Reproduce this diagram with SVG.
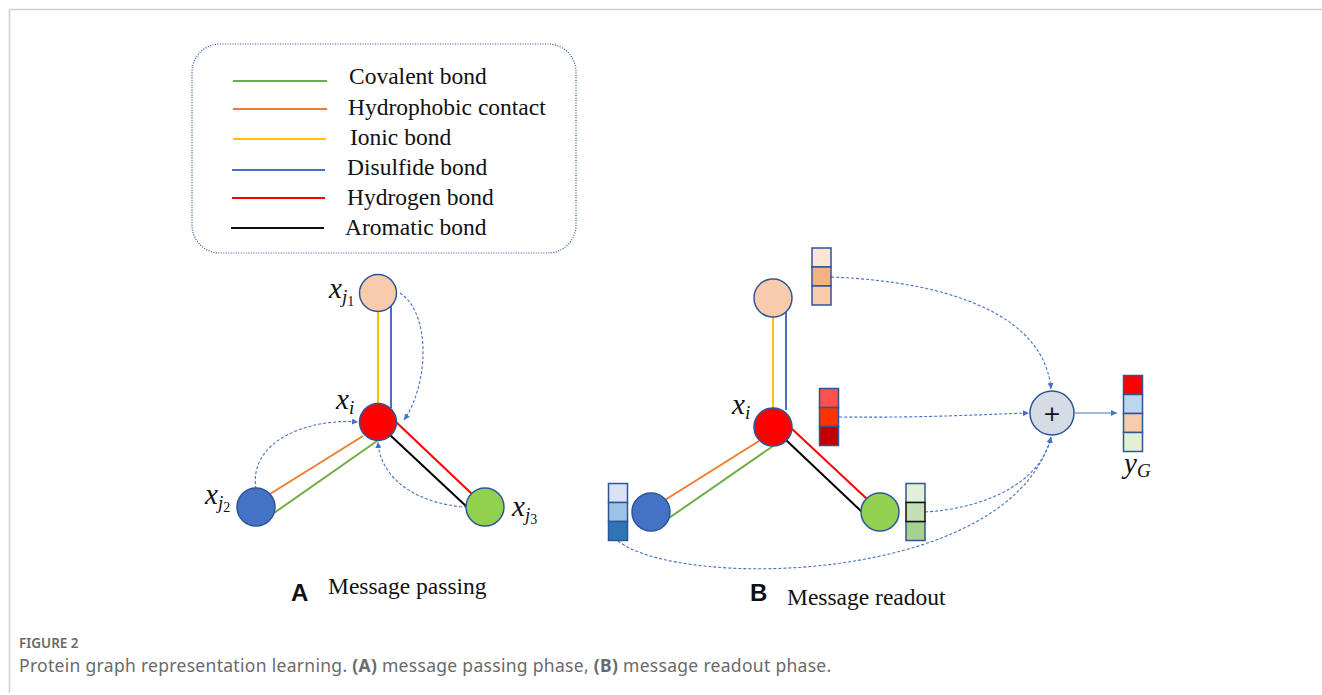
<svg xmlns="http://www.w3.org/2000/svg" width="1322" height="695" viewBox="0 0 1322 695">
<defs>
<marker id="ah" viewBox="0 0 6 6" refX="6" refY="3" markerWidth="6" markerHeight="6" markerUnits="userSpaceOnUse" orient="auto"><path d="M0,0 L6,3 L0,6 z" fill="#4472C4"/></marker>
<style>
.leg{font-family:"Liberation Serif",serif;font-size:23.5px;fill:#111}
.math{font-family:"Liberation Serif",serif;font-style:italic;font-size:29px;fill:#111}
.sb{font-size:19px}
.sn{font-size:14px;font-style:normal}
.node{stroke:#2F5597;stroke-width:1.5}
.cell{stroke:#2F5597;stroke-width:1.5}
.e{stroke-width:2;fill:none}
.msg{stroke:#4472C4;stroke-width:1.1;stroke-dasharray:3 2;fill:none}
.pl{font-family:"Liberation Sans",Arial,sans-serif;font-weight:bold;font-size:24px;fill:#111}
.cap{font-family:"Noto Sans",sans-serif;fill:#6a6a6a}
</style>
</defs>
<rect width="1322" height="695" fill="#fff"/>
<g id="frame" stroke="#cfcfcf" stroke-width="1.5"><line x1="9.5" y1="9.5" x2="1322" y2="9.5"/><line x1="9.5" y1="9.5" x2="9.5" y2="693"/></g>

<g id="legend">
<rect x="192" y="44" width="384" height="209" rx="28" fill="none" stroke="#2F5597" stroke-width="1.2" stroke-dasharray="1 1.5"/>
<line x1="233" y1="81" x2="327" y2="81" stroke="#70AD47" stroke-width="2"/>
<line x1="233" y1="109" x2="327" y2="109" stroke="#ED7D31" stroke-width="2"/>
<line x1="233" y1="139" x2="326" y2="139" stroke="#FFC000" stroke-width="2"/>
<line x1="232" y1="170" x2="325" y2="170" stroke="#4472C4" stroke-width="2"/>
<line x1="232" y1="198" x2="325" y2="198" stroke="#FF0000" stroke-width="2"/>
<line x1="231" y1="228" x2="324" y2="228" stroke="#111" stroke-width="2"/>
<text class="leg" x="349" y="84">Covalent bond</text>
<text class="leg" x="348" y="115">Hydrophobic contact</text>
<text class="leg" x="350" y="145">Ionic bond</text>
<text class="leg" x="347" y="175">Disulfide bond</text>
<text class="leg" x="347" y="205">Hydrogen bond</text>
<text class="leg" x="345" y="235">Aromatic bond</text>
</g>

<g id="connectors">
<line class="e" x1="378" y1="311" x2="378" y2="404" stroke="#FFC000"/>
<line class="e" x1="391" y1="306" x2="391" y2="408" stroke="#4472C4"/>
<line class="e" x1="270" y1="494" x2="363" y2="436" stroke="#ED7D31"/>
<line class="e" x1="274" y1="513" x2="377" y2="441" stroke="#70AD47"/>
<line class="e" x1="396" y1="422" x2="472" y2="494" stroke="#FF0000"/>
<line class="e" x1="390" y1="435" x2="467" y2="507" stroke="#000"/>
<path class="msg" d="M400,293 C430,312 430,382 404,420" marker-end="url(#ah)"/>
<path class="msg" d="M256,489 C248,440 310,418 358,422" marker-end="url(#ah)"/>
<path class="msg" d="M467,507 C420,505 380,480 378,442" marker-end="url(#ah)"/>
<line class="e" x1="773" y1="317" x2="773" y2="408" stroke="#FFC000"/>
<line class="e" x1="786" y1="311" x2="786" y2="410" stroke="#4472C4"/>
<line class="e" x1="665" y1="500" x2="759" y2="441" stroke="#ED7D31"/>
<line class="e" x1="669" y1="518" x2="773" y2="446" stroke="#70AD47"/>
<line class="e" x1="791" y1="428" x2="867" y2="499" stroke="#FF0000"/>
<line class="e" x1="786" y1="440" x2="862" y2="512" stroke="#000"/>
<path class="msg" d="M831,277 C960,282 1045,320 1051,389" marker-end="url(#ah)"/>
<path class="msg" d="M839,417 C930,418 990,414 1029,413" marker-end="url(#ah)"/>
<path class="msg" d="M925,512 C990,508 1042,480 1051,437" marker-end="url(#ah)"/>
<path class="msg" d="M618,541 C680,590 1010,585 1051,437" marker-end="url(#ah)"/>
<line x1="1075" y1="413" x2="1117" y2="413" stroke="#4472C4" stroke-width="1.2" marker-end="url(#ah)"/>
</g>

<g id="A-xj1"><circle class="node" cx="378" cy="293" r="18.5" fill="#F8CBAD"/>
<text class="math" x="329" y="298">x<tspan class="sb" dy="5">j</tspan><tspan class="sn" dy="3">1</tspan></text></g>
<g id="A-xi"><circle class="node" cx="378" cy="422" r="18.5" fill="#FF0000"/>
<text class="math" x="336" y="409">x<tspan class="sb" dy="5">i</tspan></text></g>
<g id="A-xj2"><circle class="node" cx="256" cy="507" r="19" fill="#4472C4"/>
<text class="math" x="205" y="504">x<tspan class="sb" dy="5">j</tspan><tspan class="sn" dy="3">2</tspan></text></g>
<g id="A-xj3"><circle class="node" cx="485" cy="507" r="19" fill="#92D050"/>
<text class="math" x="512" y="516">x<tspan class="sb" dy="5">j</tspan><tspan class="sn" dy="3">3</tspan></text></g>

<g id="B-j1"><circle class="node" cx="773" cy="298" r="19" fill="#F8CBAD"/></g>
<g id="B-xi"><circle class="node" cx="773" cy="427" r="19" fill="#FF0000"/>
<text class="math" x="732" y="414">x<tspan class="sb" dy="5">i</tspan></text></g>
<g id="B-j2"><circle class="node" cx="651" cy="512" r="19" fill="#4472C4"/></g>
<g id="B-j3"><circle class="node" cx="880" cy="512" r="19" fill="#92D050"/></g>

<g id="vec-j1">
<rect class="cell" x="812" y="248" width="19" height="19" fill="#FBE5D6"/>
<rect class="cell" x="812" y="267" width="19" height="19" fill="#F4B183"/>
<rect class="cell" x="812" y="286" width="19" height="19" fill="#F8CBAD"/>
</g>
<g id="vec-i">
<rect class="cell" x="819.5" y="388.5" width="19" height="19" fill="#FF5050"/>
<rect class="cell" x="819.5" y="407.5" width="19" height="19" fill="#FF3300"/>
<rect class="cell" x="819.5" y="426.5" width="19" height="19" fill="#C00000"/>
</g>
<g id="vec-j2">
<rect class="cell" x="608.5" y="483.5" width="19" height="19" fill="#DAE3F3"/>
<rect class="cell" x="608.5" y="502.5" width="19" height="19" fill="#9DC3E6"/>
<rect class="cell" x="608.5" y="521.5" width="19" height="19" fill="#2E75B6"/>
</g>
<g id="vec-j3">
<rect class="cell" x="906" y="483.5" width="19" height="19" fill="#E2F0D9"/>
<rect class="cell" x="906" y="521.5" width="19" height="19" fill="#A9D18E"/>
<rect x="906" y="502.5" width="19" height="19" fill="#C5E0B4" stroke="#111" stroke-width="1.5"/>
</g>
<g id="sum"><circle class="node" cx="1052" cy="413" r="22" fill="#D6DCE5"/>
<text x="1052" y="421" text-anchor="middle" font-family="DejaVu Sans,sans-serif" font-size="22" fill="#111">+</text></g>
<g id="yG">
<rect class="cell" x="1123.5" y="375.5" width="19" height="19" fill="#FF0000"/>
<rect class="cell" x="1123.5" y="394.5" width="19" height="19" fill="#BDD7EE"/>
<rect class="cell" x="1123.5" y="413.5" width="19" height="19" fill="#F8CBAD"/>
<rect class="cell" x="1123.5" y="432.5" width="19" height="19" fill="#E2F0D9"/>
<text class="math" x="1124" y="473">y<tspan class="sb" dy="4">G</tspan></text>
</g>

<g id="labels">
<text class="pl" x="291" y="601">A</text>
<text class="leg" x="328" y="594">Message passing</text>
<text class="pl" x="750" y="601">B</text>
<text class="leg" x="787" y="605">Message readout</text>
</g>
<g id="caption">
<text class="cap" x="19" y="648" font-size="13.5" font-weight="600">FIGURE 2</text>
<text class="cap" x="19" y="672" font-size="17.5" letter-spacing="0.3">Protein graph representation learning. <tspan font-weight="bold">(A)</tspan> message passing phase, <tspan font-weight="bold">(B)</tspan> message readout phase.</text>
</g>
</svg>
